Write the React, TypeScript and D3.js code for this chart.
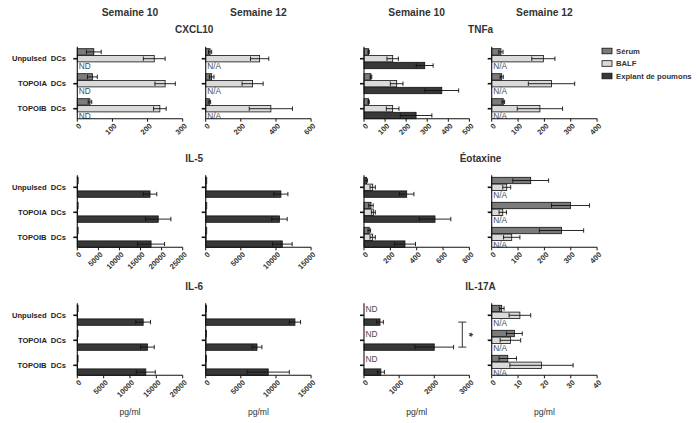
import React from "react";
import * as d3 from "d3";

const W = 697;
const H = 423;

const categories = ["Unpulsed  DCs", "TOPOIA  DCs", "TOPOIB  DCs"];
const seriesNames = ["Sérum", "BALF", "Explant de poumons"];
const seriesColors = ["#7b7b7b", "#dadada", "#383838"];
const weekLabels = ["Semaine 10", "Semaine 12", "Semaine 10", "Semaine 12"];
const cytokines = ["CXCL10", "TNFa", "IL-5", "Éotaxine", "IL-6", "IL-17A"];

// CXCL10
const cxcl10W10Means = [[47, 43, 36], [219, 250, 235], null];
const cxcl10W10Errs = [[21, 14, 5], [31, 29, 18], null];
const cxcl10W10Ticks = [0, 100, 200, 300];
const cxcl10W12Means = [[25, 34, 21], [307, 267, 371], null];
const cxcl10W12Errs = [[9, 13, 7], [52, 60, 123], null];
const cxcl10W12Ticks = [0, 200, 400, 600];

// TNFa
const tnfW10Means = [[22, 33, 22], [136, 155, 136], [288, 369, 247]];
const tnfW10Errs = [[3, 4, 3], [27, 30, 30], [40, 80, 75]];
const tnfW10Ticks = [0, 100, 200, 300, 400, 500];
const tnfW12Means = [[35, 38, 44], [196, 227, 183], null];
const tnfW12Errs = [[8, 6, 5], [44, 88, 86], null];
const tnfW12Ticks = [0, 100, 200, 300, 400];

// IL-5
const il5W10Means = [[200, 200, 200], [80, 80, 80], [17250, 19200, 17500]];
const il5W10Errs = [[0, 0, 0], [0, 0, 0], [1600, 3000, 3200]];
const il5W10Ticks = [0, 5000, 10000, 15000, 20000, 25000];
const il5W12Means = [[150, 150, 150], [60, 60, 60], [10700, 10500, 10900]];
const il5W12Errs = [[0, 0, 0], [0, 0, 0], [1000, 1100, 1400]];
const il5W12Ticks = [0, 5000, 10000, 15000];

// Eotaxine
const eotW10Means = [[20, 53, 40], [66, 71, 66], [324, 539, 311]];
const eotW10Errs = [[7, 17, 10], [20, 15, 20], [55, 120, 80]];
const eotW10Ticks = [0, 200, 400, 600, 800];
const eotW12Means = [[148, 299, 265], [57, 42, 76], null];
const eotW12Errs = [[68, 72, 84], [15, 14, 31], null];
const eotW12Ticks = [0, 100, 200, 300, 400];

// IL-6
const il6W10Means = [[150, 150, 150], [60, 60, 60], [12500, 13300, 13000]];
const il6W10Errs = [[0, 0, 0], [0, 0, 0], [1400, 1300, 1800]];
const il6W10Ticks = [0, 5000, 10000, 15000, 20000];
const il6W12Means = [[100, 100, 100], [50, 50, 50], [12700, 7300, 8900]];
const il6W12Errs = [[0, 0, 0], [0, 0, 0], [800, 700, 3000]];
const il6W12Ticks = [0, 5000, 10000, 15000];

// IL-17A
const il17W10Means = [null, null, [456, 2000, 480]];
const il17W10Errs = [null, null, [95, 550, 100]];
const il17W10Ticks = [0, 1000, 2000, 3000];
const il17W12Means = [[3.8, 8.6, 6.1], [10.7, 7.1, 18.9], null];
const il17W12Errs = [[0.9, 3, 3.3], [4.1, 3.9, 12], null];
const il17W12Ticks = [0, 10, 20, 30, 40];

const unitLabel = "pg/ml";
const significance = "*";

type Panel = {
  row: number;
  col: number;
  means: (number[] | null)[];
  errs: (number[] | null)[];
  ticks: number[];
  missing?: { slot: number; text: string };
};

const panels: Panel[] = [
  { row: 0, col: 0, means: cxcl10W10Means, errs: cxcl10W10Errs, ticks: cxcl10W10Ticks, missing: { slot: 2, text: "ND" } },
  { row: 0, col: 1, means: cxcl10W12Means, errs: cxcl10W12Errs, ticks: cxcl10W12Ticks, missing: { slot: 2, text: "N/A" } },
  { row: 0, col: 2, means: tnfW10Means, errs: tnfW10Errs, ticks: tnfW10Ticks },
  { row: 0, col: 3, means: tnfW12Means, errs: tnfW12Errs, ticks: tnfW12Ticks, missing: { slot: 2, text: "N/A" } },
  { row: 1, col: 0, means: il5W10Means, errs: il5W10Errs, ticks: il5W10Ticks },
  { row: 1, col: 1, means: il5W12Means, errs: il5W12Errs, ticks: il5W12Ticks },
  { row: 1, col: 2, means: eotW10Means, errs: eotW10Errs, ticks: eotW10Ticks },
  { row: 1, col: 3, means: eotW12Means, errs: eotW12Errs, ticks: eotW12Ticks, missing: { slot: 2, text: "N/A" } },
  { row: 2, col: 0, means: il6W10Means, errs: il6W10Errs, ticks: il6W10Ticks },
  { row: 2, col: 1, means: il6W12Means, errs: il6W12Errs, ticks: il6W12Ticks },
  { row: 2, col: 2, means: il17W10Means, errs: il17W10Errs, ticks: il17W10Ticks, missing: { slot: 0, text: "ND" } },
  { row: 2, col: 3, means: il17W12Means, errs: il17W12Errs, ticks: il17W12Ticks, missing: { slot: 2, text: "N/A" } },
];

const colX = [77.3, 205.7, 364, 491.7];
const panelW = 105.4;
const rowTop = [46.7, 175.3, 303.3];
const panelH = 72;
const FONT = "'Liberation Sans', Arial, Helvetica, sans-serif";

function makeScales(p: Panel) {
  const x0 = colX[p.col];
  const top = rowTop[p.row];
  const bottom = top + panelH;
  const x = d3.scaleLinear().domain([0, p.ticks[p.ticks.length - 1]]).range([x0, x0 + panelW]);
  const y = d3.scaleBand<string>().domain(categories).range([top + 2, bottom]).paddingInner(0.2).paddingOuter(0);
  const inner = d3.scaleBand<number>().domain([0, 1, 2]).range([0, y.bandwidth()]).paddingInner(0.06);
  return { x, y, inner, x0, top, bottom };
}

function PanelView({ p }: { p: Panel }) {
  const { x, y, inner, x0, top, bottom } = makeScales(p);
  const bh = inner.bandwidth();
  const els: React.ReactNode[] = [];
  categories.forEach((cat, ci) => {
    const gy = y(cat)!;
    els.push(
      <line key={`ct${ci}`} x1={x0 - 4} x2={x0} y1={gy + y.bandwidth() / 2} y2={gy + y.bandwidth() / 2} stroke="#111" strokeWidth={1.6} />
    );
    p.means.forEach((arr, si) => {
      if (!arr) return;
      const v = arr[ci];
      const e = p.errs[si] ? (p.errs[si] as number[])[ci] : 0;
      const by = gy + inner(si)!;
      const cy = by + bh / 2;
      els.push(
        <rect key={`b${ci}-${si}`} x={x(0)} y={by} width={Math.max(0, x(v) - x(0))} height={bh} fill={seriesColors[si]} stroke="#111" strokeWidth={0.8} />
      );
      if (e > 0) {
        const lo = x(Math.max(0, v - e));
        const hi = x(v + e);
        els.push(
          <g key={`e${ci}-${si}`} stroke="#111" strokeWidth={0.9}>
            <line x1={lo} x2={hi} y1={cy} y2={cy} />
            <line x1={lo} x2={lo} y1={cy - 2.2} y2={cy + 2.2} />
            <line x1={hi} x2={hi} y1={cy - 2.2} y2={cy + 2.2} />
          </g>
        );
      }
    });
    if (p.missing) {
      const by = gy + inner(p.missing.slot)!;
      els.push(
        <text key={`m${ci}`} x={x0 + 1.5} y={by + bh / 2 + 0.5} dominantBaseline="central" fontSize={8.3} fill="#4a4a4a" fontFamily={FONT}>
          {p.missing.text}
        </text>
      );
    }
  });
  return (
    <g>
      {els}
      <line x1={x0} x2={x0} y1={top} y2={bottom} stroke="#111" strokeWidth={1.1} />
      <line x1={x0} x2={x0 + panelW} y1={bottom} y2={bottom} stroke="#111" strokeWidth={1.1} />
      {p.ticks.map((t) => (
        <g key={`t${t}`}>
          <line x1={x(t)} x2={x(t)} y1={bottom} y2={bottom + 3} stroke="#111" strokeWidth={1} />
          <text
            transform={`translate(${x(t) + 3},${bottom + 6}) rotate(-45)`}
            textAnchor="end"
            dominantBaseline="central"
            fontSize={7.5}
            fontWeight="bold"
            fill="#333"
            fontFamily={FONT}
          >
            {t}
          </text>
        </g>
      ))}
    </g>
  );
}

export default function App() {
  const il17 = panels[10];
  const s = makeScales(il17);
  const b0 = s.y(categories[0])! + s.inner(2)! + s.inner.bandwidth() / 2;
  const b1 = s.y(categories[1])! + s.inner(2)! + s.inner.bandwidth() / 2;
  const bx = 462.3;

  return (
    <svg width={W} height={H} style={{ position: "absolute", left: 0, top: 0, background: "#fff" }} fontFamily={FONT}>
      <rect x={0} y={0} width={W} height={H} fill="#fff" />
      {weekLabels.map((w, i) => (
        <text key={`w${i}`} x={colX[i] + panelW / 2} y={12} textAnchor="middle" dominantBaseline="central" fontSize={10.3} fontWeight="bold" fill="#333">
          {w}
        </text>
      ))}
      {cytokines.map((c, i) => {
        const row = Math.floor(i / 2);
        const pair = i % 2;
        const cx = (colX[pair * 2] + colX[pair * 2 + 1] + panelW) / 2;
        return (
          <text key={`c${i}`} x={cx} y={rowTop[row] - 17} textAnchor="middle" dominantBaseline="central" fontSize={10} fontWeight="bold" fill="#333">
            {c}
          </text>
        );
      })}
      {panels.map((p, i) => (
        <PanelView key={i} p={p} />
      ))}
      {rowTop.map((t, ri) => {
        const sc = makeScales(panels[ri * 4]);
        return categories.map((c, ci) => (
          <text
            key={`cl${ri}-${ci}`}
            x={66}
            y={sc.y(c)! + sc.y.bandwidth() / 2}
            textAnchor="end"
            dominantBaseline="central"
            fontSize={7.6}
            fontWeight="bold"
            fill="#222"
            style={{ whiteSpace: "pre" }}
          >
            {c}
          </text>
        ));
      })}
      {colX.map((cx, i) => (
        <text key={`u${i}`} x={cx + panelW / 2} y={412} textAnchor="middle" dominantBaseline="central" fontSize={8.6} fill="#333">
          {unitLabel}
        </text>
      ))}
      <g stroke="#333" strokeWidth={1}>
        <line x1={bx} x2={bx} y1={b0} y2={b1} />
        <line x1={bx - 4} x2={bx + 4} y1={b0} y2={b0} />
        <line x1={bx - 4} x2={bx + 4} y1={b1} y2={b1} />
      </g>
      <text transform={`translate(${bx + 7},${(b0 + b1) / 2}) rotate(90)`} textAnchor="middle" dominantBaseline="central" fontSize={11} fontWeight="bold" fill="#333">
        {significance}
      </text>
      {seriesNames.map((n, i) => {
        const ly = [51, 63.5, 76][i];
        return (
          <g key={`l${i}`}>
            <rect x={602} y={ly - 2.8} width={10} height={5.6} fill={seriesColors[i]} stroke="#111" strokeWidth={0.8} />
            <text x={616} y={ly} dominantBaseline="central" fontSize={7.7} fontWeight="bold" fill="#333">
              {n}
            </text>
          </g>
        );
      })}
    </svg>
  );
}
